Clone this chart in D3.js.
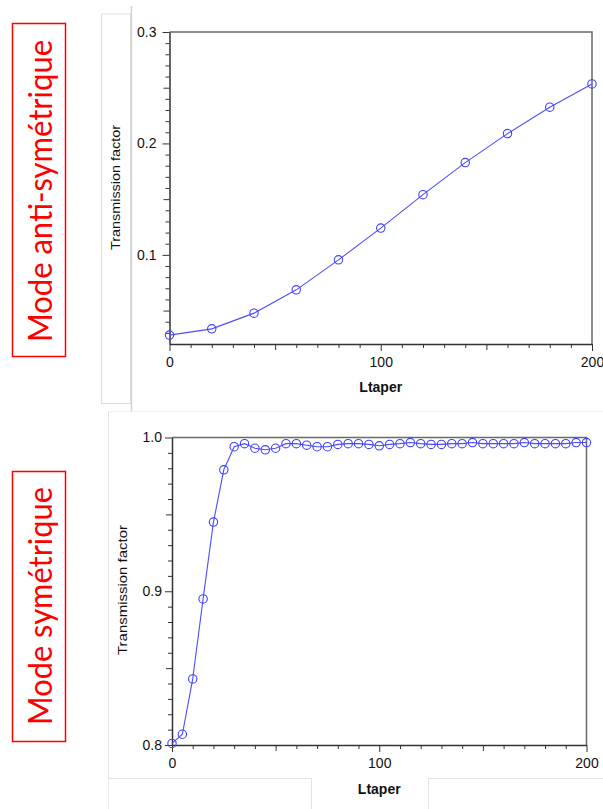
<!DOCTYPE html>
<html><head><meta charset="utf-8">
<script src="https://cdn.jsdelivr.net/npm/d3@7"></script>
<style>html,body{margin:0;padding:0;background:#fff;}svg{display:block;}</style>
</head><body>
<script>
// ---- data ----
const antiX = [0, 20, 40, 60, 80, 100, 120, 140, 160, 180, 200];
const antiY = [0.028, 0.0336, 0.0477, 0.0686, 0.0955, 0.124, 0.154, 0.1828, 0.2088, 0.2325, 0.2534];
const symX = [0,5,10,15,20,25,30,35,40,45,50,55,60,65,70,75,80,85,90,95,100,
              105,110,115,120,125,130,135,140,145,150,155,160,165,170,175,180,185,190,195,200];
const symY = [0.801,0.807,0.843,0.895,0.945,0.979,0.994,0.996,0.993,0.992,0.993,0.996,0.996,0.995,0.994,0.994,0.9955,0.996,0.996,0.9955,0.9946,
              0.9955,0.996,0.9967,0.996,0.9955,0.9955,0.996,0.996,0.9967,0.996,0.996,0.996,0.996,0.9967,0.996,0.996,0.996,0.996,0.9967,0.9967];
const xTickLabels = [0, 100, 200];
const antiYTicks = [0.1, 0.2, 0.3];
const symYTicks = [0.8, 0.9, 1.0];
const xTitle = "Ltaper";
const yTitle = "Transmission factor";
const panelTitles = ["Mode anti-symétrique", "Mode symétrique"];

const W = 603, H = 809;
const svg = d3.select("body").append("svg").attr("width", W).attr("height", H)
  .style("font-family", "'Liberation Sans', Arial, sans-serif");
svg.append("rect").attr("width", W).attr("height", H).attr("fill", "#fff");

// ---- screenshot frame remnants ----
const g0 = svg.append("g").attr("fill", "none");
g0.append("path").attr("d", "M101.5,14V403.5H130.5V14H101.5").attr("stroke", "#dedede").attr("stroke-width", 1);
g0.append("path").attr("d", "M131.5,6V411.5").attr("stroke", "#d4d4d4").attr("stroke-width", 1.5);
g0.append("path").attr("d", "M108.5,809V411.5H603").attr("stroke", "#efefef").attr("stroke-width", 1);
g0.append("path").attr("d", "M108.5,411.5V778.5H311.5V809M428.5,809V778.5H603").attr("stroke", "#e2e2e2").attr("stroke-width", 1);

function drawChart(cfg) {
  const x = d3.scaleLinear().domain([0, 200]).range([cfg.left, cfg.right]);
  const y = d3.scaleLinear().domain(cfg.yDomain).range([cfg.bottom, cfg.top]);
  const g = svg.append("g");

  // frame (top & right)
  g.append("path").attr("d", `M${cfg.left},${cfg.top}H${cfg.right}V${cfg.bottom}`)
    .attr("fill", "none").attr("stroke", "#6a6a6a").attr("stroke-width", 1.5);

  // minor x ticks
  const xMinor = d3.range(0, 201, 10).filter(v => v % 50 !== 0);
  const xMid = [50, 150];
  g.append("g").attr("transform", `translate(0,${cfg.bottom})`)
    .call(d3.axisBottom(x).tickValues(xMinor).tickSize(4).tickFormat(""))
    .call(s => s.select(".domain").remove());
  g.append("g").attr("transform", `translate(0,${cfg.bottom})`)
    .call(d3.axisBottom(x).tickValues(xMid).tickSize(6).tickFormat(""))
    .call(s => s.select(".domain").remove());
  const xa = g.append("g").attr("transform", `translate(0,${cfg.bottom})`)
    .call(d3.axisBottom(x).tickValues(xTickLabels).tickSize(7).tickPadding(cfg.xPad).tickSizeOuter(0).tickFormat(d3.format("d")));
  xa.select(".domain").attr("stroke", "#333").attr("stroke-width", 1.5);
  xa.selectAll("text").attr("font-size", 14).attr("fill", "#111").attr("font-family", "'Liberation Sans', Arial, sans-serif");

  // y ticks
  const step = 0.01;
  const yMinor = [], yMid = [];
  for (let v = Math.ceil(cfg.yDomain[0] / step + 1e-6); v * step <= cfg.yDomain[1] + 1e-9; v++) {
    if (v % 10 === 0) continue;
    if (v % 5 === 0) yMid.push(v * step); else yMinor.push(v * step);
  }
  g.append("g").attr("transform", `translate(${cfg.left},0)`)
    .call(d3.axisLeft(y).tickValues(yMinor).tickSize(4).tickFormat(""))
    .call(s => s.select(".domain").remove());
  g.append("g").attr("transform", `translate(${cfg.left},0)`)
    .call(d3.axisLeft(y).tickValues(yMid).tickSize(6).tickFormat(""))
    .call(s => s.select(".domain").remove());
  const ya = g.append("g").attr("transform", `translate(${cfg.left},0)`)
    .call(d3.axisLeft(y).tickValues(cfg.yTicks).tickSize(7).tickPadding(cfg.yPad).tickSizeOuter(0).tickFormat(d3.format(".1f")));
  ya.select(".domain").attr("stroke", "#333").attr("stroke-width", 1.5);
  ya.selectAll("text").attr("font-size", 14).attr("fill", "#111").attr("font-family", "'Liberation Sans', Arial, sans-serif");
  g.selectAll(".tick line").attr("stroke", "#333");

  // titles
  g.append("text").attr("x", (cfg.left + cfg.right) / 2).attr("y", cfg.xTitleY)
    .attr("text-anchor", "middle").attr("font-size", 14).attr("font-weight", "bold").attr("fill", "#111")
    .text(xTitle);
  g.append("text").attr("transform", `translate(${cfg.yTitleX},${cfg.yTitleCY}) rotate(-90)`)
    .attr("text-anchor", "middle").attr("font-size", 13.5).attr("fill", "#111")
    .attr("textLength", cfg.yTitleLen).attr("lengthAdjust", "spacingAndGlyphs")
    .text(yTitle);

  // series
  const pts = cfg.xs.map((d, i) => [d, cfg.ys[i]]);
  g.append("path").datum(pts)
    .attr("d", d3.line().x(d => x(d[0])).y(d => y(d[1])))
    .attr("fill", "none").attr("stroke", "#4d4dff").attr("stroke-width", 1.1);
  g.selectAll("circle.m").data(pts).join("circle").attr("class", "m")
    .attr("cx", d => x(d[0])).attr("cy", d => y(d[1])).attr("r", 4.2)
    .attr("fill", "none").attr("stroke", "#4040ff").attr("stroke-width", 1.1);

  // red boxed label
  svg.append("rect").attr("x", 12.5).attr("y", cfg.boxTop).attr("width", 53).attr("height", cfg.boxBottom - cfg.boxTop)
    .attr("fill", "none").attr("stroke", "#ff0000").attr("stroke-width", 1.5);
  svg.append("text").attr("transform", `translate(51.5,${(cfg.textTop + cfg.textBottom) / 2}) rotate(-90)`)
    .attr("text-anchor", "middle").attr("font-family", "Lato, 'Open Sans', sans-serif").attr("font-size", 32)
    .attr("fill", "#ff0000").attr("textLength", cfg.textBottom - cfg.textTop).attr("lengthAdjust", "spacingAndGlyphs")
    .text(cfg.title);
}

drawChart({
  xs: antiX, ys: antiY, yDomain: [0.02, 0.3], yTicks: antiYTicks,
  left: 169.5, right: 592, top: 32, bottom: 344,
  xPad: 6, yPad: 6,
  xTitleY: 391.5, yTitleX: 119.5, yTitleCY: 187.5, yTitleLen: 125,
  title: panelTitles[0], boxTop: 23.5, boxBottom: 356.5, textTop: 40, textBottom: 342
});
drawChart({
  xs: symX, ys: symY, yDomain: [0.8, 1.0], yTicks: symYTicks,
  left: 172, right: 586.5, top: 437.5, bottom: 745,
  xPad: 6, yPad: 3,
  xTitleY: 793.5, yTitleX: 127, yTitleCY: 590, yTitleLen: 130,
  title: panelTitles[1], boxTop: 471.5, boxBottom: 741.5, textTop: 487, textBottom: 725
});
</script>
</body></html>
